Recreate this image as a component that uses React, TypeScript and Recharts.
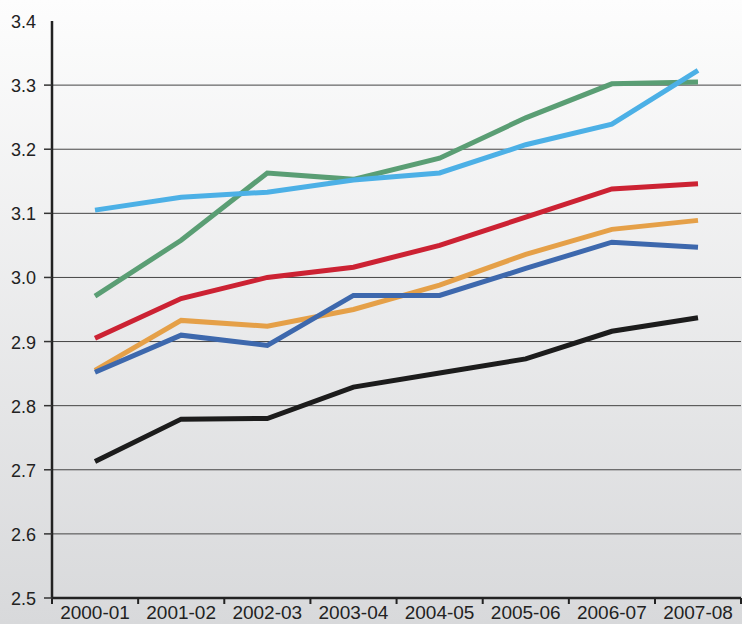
import { Line, LineChart, ReferenceLine, XAxis, YAxis } from "recharts"

const years = ['2000-01', '2001-02', '2002-03', '2003-04', '2004-05', '2005-06', '2006-07', '2007-08']

const lightBlue = [3.105, 3.125, 3.133, 3.152, 3.163, 3.207, 3.239, 3.323]
const green = [2.971, 3.058, 3.163, 3.153, 3.186, 3.249, 3.302, 3.305]
const red = [2.905, 2.967, 3.0, 3.016, 3.05, 3.094, 3.138, 3.146]
const orange = [2.855, 2.933, 2.924, 2.95, 2.988, 3.036, 3.075, 3.089]
const blue = [2.852, 2.91, 2.894, 2.972, 2.972, 3.014, 3.055, 3.047]
const black = [2.713, 2.779, 2.78, 2.829, 2.851, 2.873, 2.916, 2.937]

const yTicks = [2.5, 2.6, 2.7, 2.8, 2.9, 3.0, 3.1, 3.2, 3.3, 3.4]
const gridValues = [2.6, 2.7, 2.8, 2.9, 3.0, 3.1, 3.2, 3.3]

const data = years.map((year, i) => ({
    year,
    lightBlue: lightBlue[i],
    green: green[i],
    red: red[i],
    orange: orange[i],
    blue: blue[i],
    black: black[i],
}))

const font = '"Liberation Sans", Arial, sans-serif'

function YTick(props: any) {
    const { x, y, payload } = props
    const v = payload.value
    return (
        <g>
            {v < 3.4 && <line x1={x - 8} x2={x} y1={y} y2={y} stroke="#333" strokeWidth={1.5} />}
            <text x={x - 16} y={y} dy={7} textAnchor="end" fontSize={18} fill="#222" fontFamily={font}>
                {v.toFixed(1)}
            </text>
        </g>
    )
}

function XTick(props: any) {
    const { x, y, payload, index } = props
    const half = 43
    return (
        <g>
            <line x1={x - half} x2={x - half} y1={y} y2={y + 6} stroke="#222" strokeWidth={2} />
            {index === years.length - 1 && (
                <line x1={x + half} x2={x + half} y1={y} y2={y + 6} stroke="#222" strokeWidth={2} />
            )}
            <text x={x} y={y} dy={21} textAnchor="middle" fontSize={19} fill="#222" fontFamily={font}>
                {payload.value}
            </text>
        </g>
    )
}

export default function App() {
    return (
        <div style={{ width: 742, height: 624, background: 'linear-gradient(#fdfdfd, #d8d9db)' }}>
            <style>{`body{margin:0}`}</style>
            <LineChart
                width={742}
                height={624}
                data={data}
                margin={{ top: 21, right: 1, bottom: 0, left: 0 }}
            >
                {gridValues.map(v => (
                    <ReferenceLine key={v} y={v} stroke="#444" strokeWidth={1} />
                ))}
                <XAxis
                    dataKey="year"
                    height={26}
                    padding={{ left: 43, right: 43 }}
                    tickSize={0}
                    tickMargin={0}
                    axisLine={{ stroke: '#222', strokeWidth: 2.5 }}
                    tickLine={false}
                    interval={0}
                    tick={<XTick />}
                />
                <YAxis
                    width={52}
                    domain={[2.5, 3.4]}
                    ticks={yTicks}
                    tickSize={0}
                    tickMargin={0}
                    axisLine={{ stroke: '#222', strokeWidth: 2.5 }}
                    tickLine={false}
                    interval={0}
                    tick={<YTick />}
                />
                <Line dataKey="black" stroke="#1c1c1c" strokeWidth={5} dot={false} isAnimationActive={false} />
                <Line dataKey="green" stroke="#5a9e74" strokeWidth={5} dot={false} isAnimationActive={false} />
                <Line dataKey="orange" stroke="#e5a048" strokeWidth={5} dot={false} isAnimationActive={false} />
                <Line dataKey="red" stroke="#cc2233" strokeWidth={5} dot={false} isAnimationActive={false} />
                <Line dataKey="lightBlue" stroke="#4cb0e6" strokeWidth={5} dot={false} isAnimationActive={false} />
                <Line dataKey="blue" stroke="#3d68ad" strokeWidth={5} dot={false} isAnimationActive={false} />
            </LineChart>
        </div>
    )
}
